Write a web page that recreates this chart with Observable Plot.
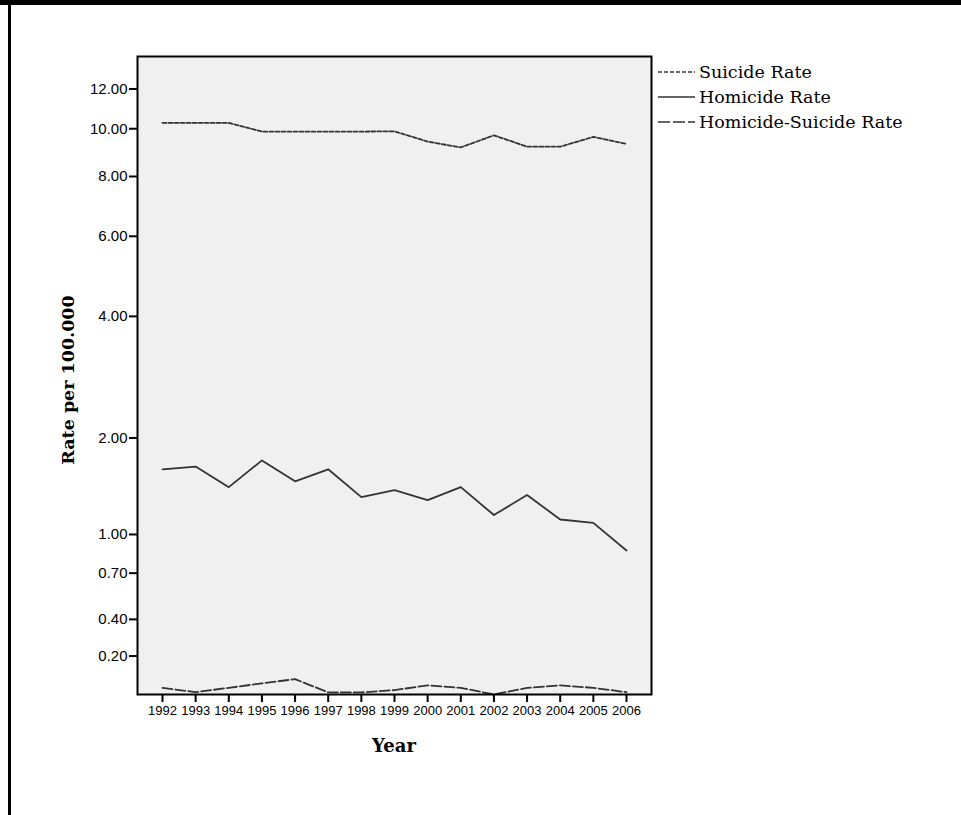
<!DOCTYPE html>
<html><head><meta charset="utf-8">
<script src="https://cdn.jsdelivr.net/npm/d3@7"></script>
<script src="https://cdn.jsdelivr.net/npm/@observablehq/plot@0.6"></script>
<style>
body{margin:0;background:#fff;}
#wrap{position:relative;width:961px;height:815px;overflow:hidden;background:#fff;}
.borderTop{position:absolute;left:0;top:0;width:961px;height:5px;background:#000;}
.borderLeft{position:absolute;left:8px;top:0;width:3px;height:815px;background:#000;}
#chart{position:absolute;left:0;top:0;}
#chart g[aria-label="y-axis tick label"]{font-size:15px;}
#chart g[aria-label="x-axis tick label"]{font-size:13px;}
.ylab{position:absolute;left:68px;top:380px;transform:translate(-50%,-50%) rotate(-90deg);font:bold 17.5px "DejaVu Serif",serif;white-space:nowrap;color:#000;}
.xlab{position:absolute;left:394px;top:745px;transform:translate(-50%,-50%);font:bold 18px "DejaVu Serif",serif;white-space:nowrap;color:#000;}
#legend{position:absolute;left:0;top:0;}
</style>
</head><body>
<div id="wrap">
  <div id="chart"></div>
  <div class="borderTop"></div>
  <div class="borderLeft"></div>
  <div class="ylab">Rate per 100.000</div>
  <div class="xlab">Year</div>
  <svg id="legend" width="961" height="160"></svg>
</div>
<script>
const years = [1992,1993,1994,1995,1996,1997,1998,1999,2000,2001,2002,2003,2004,2005,2006];
const suicideRate = [10.27,10.27,10.27,9.87,9.87,9.87,9.87,9.88,9.42,9.17,9.70,9.20,9.20,9.63,9.32];
const homicideRate = [1.63,1.66,1.44,1.73,1.50,1.63,1.34,1.41,1.31,1.44,1.17,1.36,1.13,1.10,0.87];
const homicideSuicideRate = [0.050,0.031,0.050,0.070,0.089,0.030,0.030,0.040,0.061,0.050,0.021,0.050,0.061,0.050,0.031];
const yTicks = [0.2,0.4,0.7,1,2,4,6,8,10,12];
const seriesNames = ["Suicide Rate","Homicide Rate","Homicide-Suicide Rate"];
const dashes = ["4,2", null, "10,3"];

const seriesValues = [suicideRate, homicideRate, homicideSuicideRate];
const rows = seriesValues.map((vals, s) => years.map((year, i) => ({year, value: vals[i], series: seriesNames[s]})));

const chart = Plot.plot({
  width: 961, height: 815,
  marginLeft: 137, marginRight: 310, marginTop: 56, marginBottom: 121,
  style: {background: "transparent", fontFamily: "'Liberation Sans', Arial, sans-serif", color: "#000"},
  x: {type: "linear", domain: [1992, 2006], insetLeft: 25, insetRight: 25},
  y: {type: "symlog", constant: 1, domain: [0.021, 13.9]},
  marks: [
    Plot.frame({fill: "#f0f0f0"}),
    ...rows.map((r, s) => Plot.line(r, {x: "year", y: "value", stroke: "#333", strokeWidth: 1.8, strokeDasharray: dashes[s] || undefined})),
    Plot.frame({stroke: "#000", strokeWidth: 2}),
    Plot.axisY(yTicks, {tickFormat: d => d.toFixed(2), tickSize: 8, tickPadding: 2, fontSize: 15, strokeWidth: 2, label: null}),
    Plot.axisX(years, {tickFormat: d => String(d), tickSize: 8, tickPadding: 3, fontSize: 13, strokeWidth: 2, label: null})
  ]
});
document.getElementById("chart").appendChild(chart);

// legend
const lg = d3.select("#legend");
const legendY = [72, 97, 122];
seriesNames.forEach((name, s) => {
  lg.append("line").attr("x1", 658).attr("x2", 695).attr("y1", legendY[s]).attr("y2", legendY[s])
    .attr("stroke", "#333").attr("stroke-width", 1.6)
    .attr("stroke-dasharray", s === 0 ? "4,2" : s === 2 ? "12,3" : null);
  lg.append("text").attr("x", 699).attr("y", legendY[s]).attr("dy", "0.35em")
    .attr("font-family", "'DejaVu Serif', serif").attr("font-size", 17.5).attr("fill", "#000").text(name);
});
</script>
</body></html>
